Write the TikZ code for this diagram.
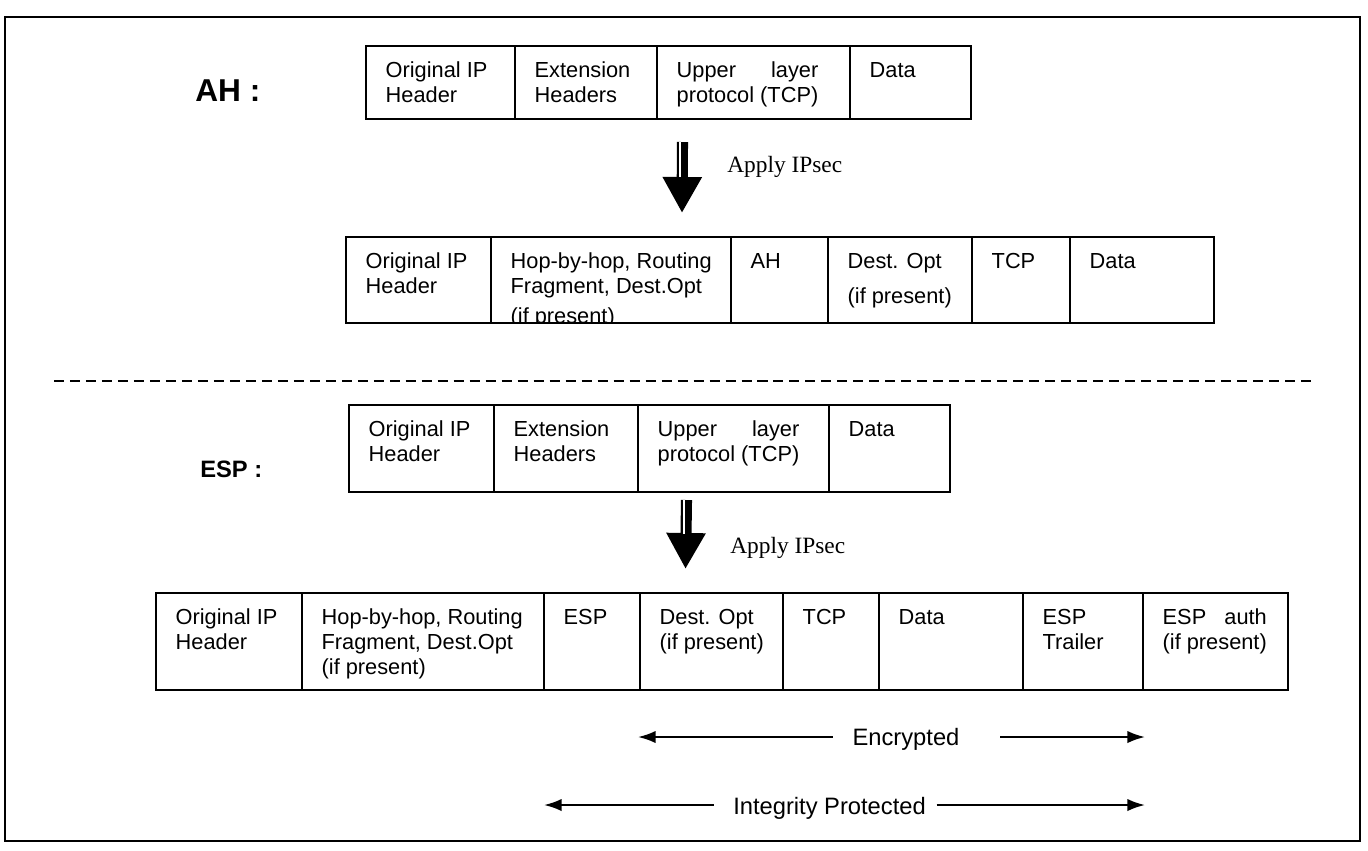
\documentclass[tikz,border=0pt]{standalone}
\usepackage{fontspec}
\usepackage{calc}
\usetikzlibrary{arrows.meta}

\newfontfamily\sansfnt{Liberation Sans}
\newfontfamily\seriffnt{Liberation Serif}
\newcommand\spreadline[2]{\makebox[\widthof{#2}][s]{#1}\\#2}

\tikzset{
  frame/.style={line width=1.6pt},
  cell/.style={draw, line width=1.4pt, rectangle, inner sep=0pt, outer sep=0pt, anchor=north west},
  celltext/.style={anchor=north west, inner sep=0pt, align=left, xshift=11pt, yshift=-9pt,
    font=\sansfnt\fontsize{12.4}{14.2}\selectfont},
  protolabel/.style={anchor=base west, inner sep=0pt, font=\sansfnt\bfseries},
  applytext/.style={anchor=base west, inner sep=0pt, font=\seriffnt\fontsize{13.3}{16}\selectfont},
  applyarrow/.style={line width=6.3pt, -{Triangle[length=20.5pt,width=21pt]}},
  bandtext/.style={anchor=base, inner sep=0pt, font=\sansfnt\fontsize{13.5}{16}\selectfont},
  pairarrow/.style={line width=1.2pt, -{Latex[length=10pt,width=7pt]}},
  sepline/.style={line width=1.1pt, dash pattern=on 5.7pt off 3.4pt}
}

\begin{document}
\begin{tikzpicture}[x=0.02cm,y=-0.02cm]

\useasboundingbox (0,0) rectangle (1368,850);
\draw[frame] (5,17) rectangle (1360,841);

% AH
\node[protolabel, font=\sansfnt\bfseries\fontsize{18}{20}\selectfont] (ahlabel) at (195,101) {AH :};

\foreach \xa/\xb/\txt [count=\i] in {366/515/{Original IP\\Header}, 515/657/{Extension\\Headers},
    657/850/{\spreadline{Upper layer}{protocol (TCP)}}, 850/971/{Data}}
{
  \node[cell, minimum width={(\xb-\xa)*0.02cm}, minimum height={73*0.02cm}] (ahin\i) at (\xa,46) {};
  \begin{scope}
    \clip (ahin\i.north west) rectangle (ahin\i.south east);
    \node[celltext] (ahin\i-t) at (ahin\i.north west) {\txt};
  \end{scope}
}

\coordinate (ahfrom) at (682.5,142);
\coordinate (ahto) at (682,213);
\draw[applyarrow] (ahfrom) -- (ahto);
\draw[white, line width=0.9pt] ([xshift=-1.3pt]ahfrom) -- ++(0,35);
\node[applytext] (ahapply) at (727,172) {Apply IPsec};

\foreach \xa/\xb/\txt [count=\i] in {346/491/{Original IP\\Header},
    491/731/{Hop-by-hop, Routing\\Fragment, Dest.Opt\\[2.5pt](if present)}, 731/828/{AH},
    828/972/{Dest. Opt\\[5.7pt](if present)}, 972/1070/{TCP}, 1070/1214/{Data}}
{
  \node[cell, minimum width={(\xb-\xa)*0.02cm}, minimum height={86*0.02cm}] (ahout\i) at (\xa,237) {};
  \begin{scope}
    \clip (ahout\i.north west) rectangle (ahout\i.south east);
    \node[celltext] (ahout\i-t) at (ahout\i.north west) {\txt};
  \end{scope}
}

\coordinate (sepL) at (54,381);
\coordinate (sepR) at (1311,381);
\draw[sepline] (sepL) -- (sepR);

% ESP
\node[protolabel, font=\sansfnt\bfseries\fontsize{13.5}{16}\selectfont] (esplabel) at (200,477) {ESP :};

\foreach \xa/\xb/\txt [count=\i] in {349/494/{Original IP\\Header}, 494/638/{Extension\\Headers},
    638/829/{\spreadline{Upper layer}{protocol (TCP)}}, 829/950/{Data}}
{
  \node[cell, minimum width={(\xb-\xa)*0.02cm}, minimum height={87*0.02cm}] (espin\i) at (\xa,405) {};
  \begin{scope}
    \clip (espin\i.north west) rectangle (espin\i.south east);
    \node[celltext] (espin\i-t) at (espin\i.north west) {\txt};
  \end{scope}
}

\coordinate (espfrom) at (686.5,500);
\coordinate (espto) at (685.5,569);
\draw[applyarrow] (espfrom) -- (espto);
\draw[white, line width=0.9pt] ([xshift=-1.3pt]espfrom) -- ++(0,34);
\node[applytext] (espapply) at (730,553) {Apply IPsec};

\foreach \xa/\xb/\txt [count=\i] in {156/302/{Original IP\\Header},
    302/544/{Hop-by-hop, Routing\\Fragment, Dest.Opt\\(if present)}, 544/640/{ESP},
    640/783/{Dest. Opt\\(if present)}, 783/879/{TCP}, 879/1023/{Data},
    1023/1143/{ESP\\Trailer}, 1143/1288/{\spreadline{ESP auth}{(if present)}}}
{
  \node[cell, minimum width={(\xb-\xa)*0.02cm}, minimum height={97*0.02cm}] (espout\i) at (\xa,593) {};
  \begin{scope}
    \clip (espout\i.north west) rectangle (espout\i.south east);
    \node[celltext] (espout\i-t) at (espout\i.north west) {\txt};
  \end{scope}
}

% protected ranges
\node[bandtext] (enc) at (906,745) {Encrypted};
\coordinate (encL) at (638,737);
\coordinate (encR) at (1145,737);
\draw[pairarrow] ([xshift=-11pt]enc.west |- encL) -- (encL);
\draw[pairarrow] ([xshift=23pt]enc.east |- encR) -- (encR);

\node[bandtext] (integ) at (829.5,814) {Integrity Protected};
\coordinate (integL) at (544,805);
\coordinate (integR) at (1145,805);
\draw[pairarrow] ([xshift=-11pt]integ.west |- integL) -- (integL);
\draw[pairarrow] ([xshift=6pt]integ.east |- integR) -- (integR);

\end{tikzpicture}
\end{document}
